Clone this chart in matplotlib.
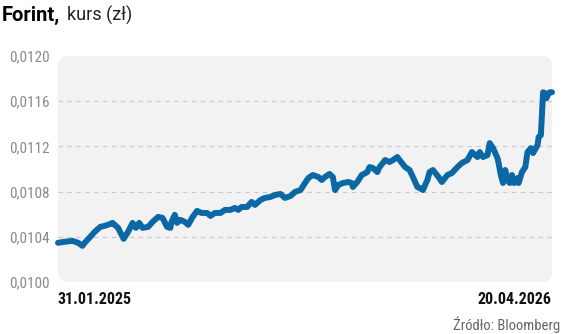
import numpy as np
import pandas as pd
import matplotlib
matplotlib.use("Agg")
import matplotlib.pyplot as plt
from matplotlib.patches import FancyBboxPatch
from matplotlib.ticker import FuncFormatter

# dni od 31.01.2025 i kurs forinta w zł
start_date = "2025-01-31"
day_offsets = [0, 6, 13, 18, 22, 24, 29, 33, 38, 42, 47, 49, 54, 58, 59, 63, 67, 70, 73, 76,
               81, 85, 90, 94, 98, 101, 102, 105, 107, 110, 114, 117, 121, 125, 129, 134, 137, 141, 146, 150,
               155, 159, 162, 165, 170, 174, 177, 182, 186, 191, 195, 200, 204, 209, 213, 218, 222, 225, 229, 234,
               237, 240, 244, 247, 249, 252, 256, 261, 264, 265, 269, 273, 278, 280, 283, 287, 289, 294, 298, 301,
               305, 307, 312, 316, 319, 323, 325, 328, 332, 334, 337, 342, 345, 350, 354, 359, 363, 368, 372, 375,
               377, 379, 382, 386, 388, 391, 395, 396, 398, 400, 402, 404, 406, 408, 410, 413, 414, 417, 420, 422,
               425, 427, 431, 432, 434, 435, 436, 438, 439, 440, 442, 444]
rate = [0.010347, 0.010356, 0.010364, 0.010347, 0.010320, 0.010347, 0.010400, 0.010444, 0.010488, 0.010497,
        0.010514, 0.010523, 0.010479, 0.010400, 0.010382, 0.010444, 0.010523, 0.010479, 0.010523, 0.010479,
        0.010488, 0.010532, 0.010576, 0.010567, 0.010488, 0.010479, 0.010532, 0.010594, 0.010523, 0.010550,
        0.010532, 0.010506, 0.010576, 0.010629, 0.010611, 0.010611, 0.010585, 0.010611, 0.010611, 0.010638,
        0.010638, 0.010656, 0.010638, 0.010664, 0.010664, 0.010709, 0.010682, 0.010726, 0.010744, 0.010753,
        0.010770, 0.010779, 0.010744, 0.010761, 0.010797, 0.010814, 0.010876, 0.010920, 0.010947, 0.010929,
        0.010903, 0.010929, 0.010956, 0.010929, 0.010814, 0.010859, 0.010876, 0.010885, 0.010876, 0.010841,
        0.010885, 0.010947, 0.010973, 0.011017, 0.011009, 0.010973, 0.011017, 0.011079, 0.011062, 0.011079,
        0.011106, 0.011079, 0.011017, 0.010991, 0.010929, 0.010841, 0.010832, 0.010814, 0.010903, 0.010973,
        0.010991, 0.010929, 0.010885, 0.010947, 0.010964, 0.011017, 0.011053, 0.011079, 0.011150, 0.011123,
        0.011106, 0.011150, 0.011106, 0.011123, 0.011229, 0.011185, 0.011097, 0.011053, 0.010947, 0.010876,
        0.010991, 0.010903, 0.010876, 0.010947, 0.010876, 0.010920, 0.010876, 0.010973, 0.011017, 0.011150,
        0.011185, 0.011141, 0.011212, 0.011282, 0.011300, 0.011494, 0.011679, 0.011670, 0.011626, 0.011653,
        0.011679, 0.011679]
y_ticks = [0.0100, 0.0104, 0.0108, 0.0112, 0.0116, 0.0120]
x_labels = ["31.01.2025", "20.04.2026"]

dates = pd.to_datetime(start_date) + pd.to_timedelta(day_offsets, unit="D")

narrow = ["Roboto Condensed", "DejaVu Sans"]

fig = plt.figure(figsize=(5.64, 3.34), dpi=100)
ax = fig.add_axes([58 / 564, 1 - 282 / 334, 494 / 564, 226 / 334])
ax.patch.set_visible(False)

bg = FancyBboxPatch((0, 0), 1, 1, boxstyle="round,pad=0,rounding_size=0.02",
                    transform=ax.transAxes, facecolor="#f2f2f2", edgecolor="none",
                    mutation_aspect=494 / 226, zorder=0, clip_on=False)
ax.add_patch(bg)

for yv in y_ticks[1:-1]:
    ax.axhline(yv, color="#c9c9c9", lw=0.8, ls=(0, (4, 4)), zorder=1)

ax.plot(dates, rate, color="#0b68a4", lw=4.3, solid_capstyle="round",
        solid_joinstyle="round", zorder=3, clip_on=False)

ax.set_xlim(dates[0], dates[-1])
ax.set_ylim(y_ticks[0], y_ticks[-1])
ax.set_yticks(y_ticks)
ax.yaxis.set_major_formatter(FuncFormatter(lambda v, p: f"{v:.4f}".replace(".", ",")))
for lbl in ax.get_yticklabels():
    lbl.set_family(narrow)
    lbl.set_fontsize(11)
    lbl.set_color("#8a8a8a")

ax.set_xticks([dates[0], dates[-1]])
ax.set_xticklabels(x_labels, family=narrow, fontsize=11.5, fontweight="bold", color="#111111")
ax.get_xticklabels()[0].set_ha("left")
ax.get_xticklabels()[1].set_ha("right")

ax.tick_params(length=0, axis="y", pad=6)
ax.tick_params(length=0, axis="x", pad=7)
for s in ax.spines.values():
    s.set_visible(False)

fig.text(2 / 564, 1 - 15 / 334, "Forint,", family="Roboto", fontsize=14.5, fontweight="bold",
         va="center", ha="left")
fig.text(67 / 564, 1 - 15 / 334, "kurs (zł)", family="Roboto", fontsize=13, va="center",
         ha="left", color="#222222")
fig.text(560 / 564, 1 - 325 / 334, "Źródło: Bloomberg", family=narrow, fontsize=10.5,
         color="#666666", ha="right", va="center")

fig.savefig("out.png", dpi=100, facecolor="white")
